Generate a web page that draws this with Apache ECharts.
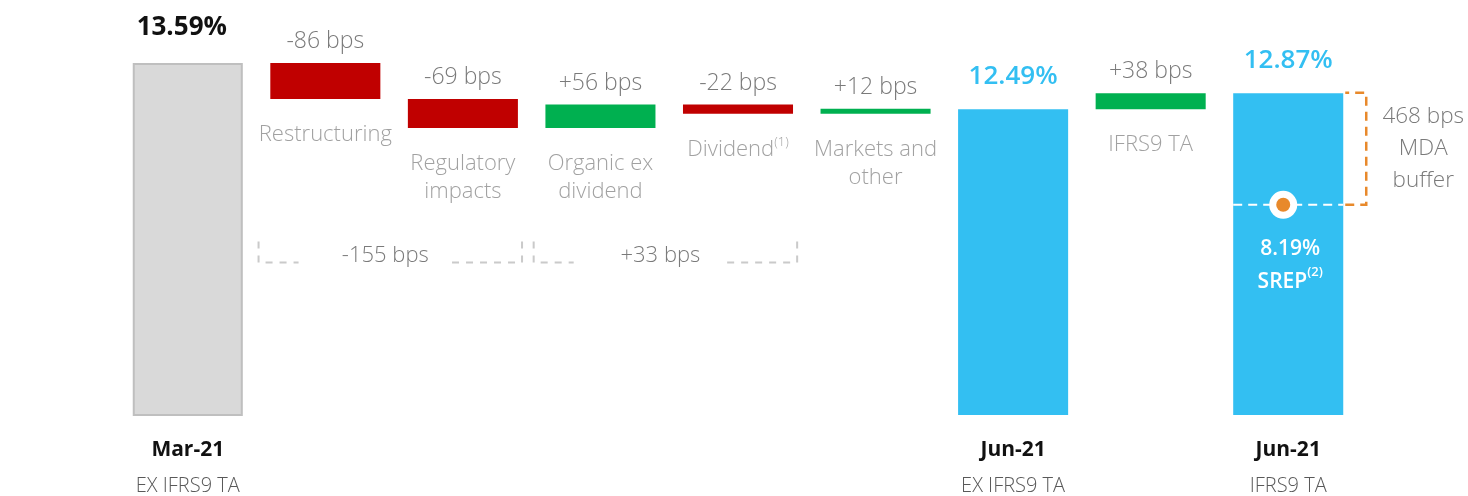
<!DOCTYPE html>
<html>
<head>
<meta charset="utf-8">
<script src="https://cdn.jsdelivr.net/npm/echarts@6/dist/echarts.min.js"></script>
<style>
html,body{margin:0;padding:0;background:#fff;}
#chart{width:1468px;height:496px;}
</style>
</head>
<body>
<div id="chart"></div>
<script>
// ---- data ----
const categories = ['Mar-21 EX IFRS9 TA', 'Restructuring', 'Regulatory impacts', 'Organic ex dividend', 'Dividend', 'Markets and other', 'Jun-21 EX IFRS9 TA', 'IFRS9 TA', 'Jun-21 IFRS9 TA'];
const axisPeriods = ['Mar-21', '', '', '', '', '', 'Jun-21', '', 'Jun-21'];
const axisSubLabels = ['EX IFRS9 TA', '', '', '', '', '', 'EX IFRS9 TA', '', 'IFRS9 TA'];
const stepNames = ['', 'Restructuring', 'Regulatory\nimpacts', 'Organic ex\ndividend', 'Dividend{sup|(1)}', 'Markets and\nother', '', 'IFRS9 TA', ''];
const totals = [13.59, null, null, null, null, null, 12.49, null, 12.87];   // CET1 ratio, %
const deltasBps = [null, -86, -69, 56, -22, 12, null, 38, null];
const groupLabels = ['-155 bps', '+33 bps'];
const groupStart = [1, 3];
const groupEnd = [2, 4];
const srepIndex = 8;
const srepValue = 8.19;
const mdaBufferBps = 468;

// ---- build waterfall ----
const FONT = '"Open Sans", "Noto Sans", sans-serif';
const GREY_TXT = '#7a7a7a';
const NAME_TXT = '#8a8a8a';
const CYAN = '#33bff2';
const RED = '#c00000';
const GREEN = '#00b050';

let level = 0;
const baseData = [], visData = [], nameData = [];
for (let i = 0; i < categories.length; i++) {
  if (totals[i] != null) {
    level = totals[i];
    baseData.push(0);
    const isFirst = i === 0;
    visData.push({
      value: totals[i],
      itemStyle: isFirst ? { color: '#d9d9d9', borderColor: '#bfbfbf', borderWidth: 2 } : { color: CYAN },
      label: {
        show: true, position: 'top', distance: isFirst ? 22 : 20,
        offset: isFirst ? [-6, 0] : [0, 0],
        formatter: totals[i].toFixed(2) + '%',
        color: isFirst ? '#111' : CYAN,
        fontSize: 26, fontWeight: isFirst ? 'bold' : 600, fontFamily: FONT
      }
    });
  } else {
    const d = deltasBps[i] / 100;
    const bottom = d < 0 ? level + d : level;
    baseData.push(+bottom.toFixed(4));
    visData.push({
      value: +Math.abs(d).toFixed(4),
      itemStyle: { color: d < 0 ? RED : GREEN },
      label: {
        show: true, position: 'top', distance: 10,
        formatter: (deltasBps[i] > 0 ? '+' : '') + deltasBps[i] + ' bps',
        color: GREY_TXT, fontSize: 23, fontWeight: 300, fontFamily: FONT
      }
    });
    nameData.push({ value: [i, bottom], name: stepNames[i] });
    level += d;
  }
}

const groupData = groupLabels.map((g, k) => [groupStart[k], groupEnd[k], g]);

const chart = echarts.init(document.getElementById('chart'));
chart.setOption({
  animation: false,
  backgroundColor: '#fff',
  grid: { left: 119, right: 111, top: 29, bottom: 81 },
  xAxis: {
    type: 'category',
    data: categories,
    axisLine: { show: false },
    axisTick: { show: false },
    axisLabel: {
      interval: 0,
      margin: 17,
      formatter: (v, i) => axisPeriods[i] ? '{a|' + axisPeriods[i] + '}\n{b|' + axisSubLabels[i] + '}' : '',
      rich: {
        a: { fontSize: 21, fontWeight: 'bold', color: '#111', lineHeight: 36, fontFamily: FONT },
        b: { fontSize: 20, fontWeight: 300, color: '#595959', lineHeight: 36, fontFamily: FONT }
      }
    }
  },
  yAxis: [
    { type: 'value', min: 5.2, max: 14.4, show: false, splitLine: { show: false } },
    { type: 'value', min: -0.6, max: 15.54, show: false, splitLine: { show: false } }
  ],
  series: [
    {
      type: 'bar', stack: 'w', data: baseData, barWidth: '80%',
      itemStyle: { color: 'transparent' }, silent: true
    },
    {
      type: 'bar', stack: 'w', data: visData, barWidth: '80%'
    },
    {
      type: 'scatter', data: nameData, symbolSize: 0,
      label: {
        show: true, position: 'bottom', distance: 22,
        formatter: p => p.name,
        color: NAME_TXT, fontSize: 22, fontWeight: 300, fontFamily: FONT, lineHeight: 28,
        rich: { sup: { fontSize: 13, verticalAlign: 'top', color: NAME_TXT, fontWeight: 300, fontFamily: FONT, lineHeight: 28 } }
      }
    },
    {
      type: 'custom', data: groupData, clip: false,
      encode: { x: 0 },
      renderItem: (params, api) => {
        const s = api.value(0), e = api.value(1);
        const bw = api.size([1, 0])[0];
        const y = api.coord([s, 9.0])[1];
        const L = api.coord([s, 9.0])[0] - bw * 0.5 + 2;
        const R = api.coord([e, 9.0])[0] + bw * 0.43;
        const ln = { stroke: '#cacaca', lineWidth: 2, lineDash: [7, 7], fill: null };
        return {
          type: 'group',
          children: [
            { type: 'polyline', shape: { points: [[L, y - 14], [L, y + 7], [L + 40, y + 7]] }, style: ln },
            { type: 'polyline', shape: { points: [[R - 70, y + 7], [R, y + 7], [R, y - 14]] }, style: ln },
            { type: 'text', style: { text: groupLabels[params.dataIndex], x: (L + R) / 2 - 5, y: y, align: 'center', verticalAlign: 'middle', fill: GREY_TXT, fontSize: 22, fontWeight: 300, fontFamily: FONT } }
          ]
        };
      }
    },
    {
      type: 'custom', yAxisIndex: 1, clip: false, z: 5,
      data: [[srepIndex, totals[srepIndex], srepValue]],
      encode: { x: 0, y: [1, 2] },
      renderItem: (params, api) => {
        const idx = api.value(0);
        const top = api.coord([idx, api.value(1)]);
        const sp = api.coord([idx, api.value(2)]);
        const bw = api.size([1, 0])[0] * 0.8;
        const cx = sp[0], y = sp[1];
        const left = cx - bw / 2, right = cx + bw / 2;
        const bx = right + 23;
        const orange = '#e8892b';
        return {
          type: 'group',
          children: [
            { type: 'line', shape: { x1: left, y1: y, x2: right, y2: y }, style: { stroke: '#fff', lineWidth: 2, lineDash: [9, 6] } },
            { type: 'polyline', shape: { points: [[right + 2, y], [bx, y], [bx, top[1]], [right + 2, top[1]]] }, style: { stroke: orange, lineWidth: 2.5, lineDash: [9, 6], fill: null } },
            { type: 'circle', shape: { cx: cx - 5, cy: y, r: 14 }, style: { fill: '#fff' } },
            { type: 'circle', shape: { cx: cx - 5, cy: y, r: 7 }, style: { fill: orange } },
            { type: 'text', style: {
                text: '{a|' + srepValue.toFixed(2) + '%}\n{b|SREP}{s|(2)}',
                x: cx + 2, y: y + 28, align: 'center', verticalAlign: 'top',
                rich: {
                  a: { fill: '#fff', fontSize: 21, fontWeight: 600, fontFamily: FONT, lineHeight: 33, align: 'center' },
                  b: { fill: '#fff', fontSize: 21, fontWeight: 600, fontFamily: FONT, lineHeight: 33 },
                  s: { fill: '#fff', fontSize: 13, fontWeight: 600, fontFamily: FONT, lineHeight: 33, verticalAlign: 'top' }
                }
            } },
            { type: 'text', style: {
                text: mdaBufferBps + ' bps\nMDA\nbuffer',
                x: bx + 57, y: (top[1] + y) / 2, align: 'center', verticalAlign: 'middle',
                fill: GREY_TXT, fontSize: 22.5, fontWeight: 300, fontFamily: FONT, lineHeight: 32
            } }
          ]
        };
      }
    }
  ]
});
</script>
</body>
</html>
